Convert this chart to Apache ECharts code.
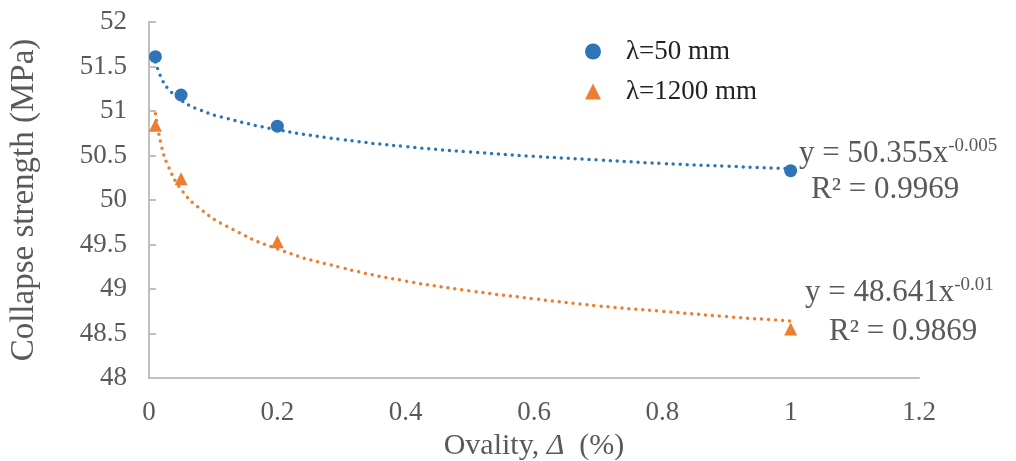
<!DOCTYPE html>
<html lang="en">
<head>
    <meta charset="UTF-8">
    <title>Collapse strength vs ovality</title>
    <script src="https://cdn.jsdelivr.net/npm/echarts@6/dist/echarts.min.js"></script>
    <style>
        html, body { margin: 0; padding: 0; background: #fff; }
        #chart { width: 1016px; height: 461px; }
    </style>
</head>
<body>
    <div id="chart"></div>
    <script>
        // measured points
        var ovality = [0.01, 0.05, 0.2, 1];
        var lambda50 = [51.61, 51.18, 50.83, 50.33];
        var lambda1200 = [50.84, 50.24, 49.53, 48.55];

        // trendline points
        var trendX = [0.01, 0.02, 0.03, 0.05, 0.08, 0.12, 0.2, 0.3, 0.4, 0.5, 0.6, 0.7, 0.8, 0.9, 1];
        var trend50 = [51.55, 51.36, 51.25, 51.12, 51.01, 50.92, 50.79, 50.68, 50.6, 50.54, 50.49, 50.45, 50.41, 50.38, 50.35];
        var trend1200 = [50.97, 50.59, 50.38, 50.12, 49.9, 49.71, 49.45, 49.24, 49.09, 48.98, 48.89, 48.81, 48.75, 48.69, 48.64];

        var xTicks = [0, 0.2, 0.4, 0.6, 0.8, 1, 1.2];

        var blue = '#2E75B6';
        var orange = '#ED7D31';
        var txt = '#595959';
        var serif = '"Liberation Serif", "DejaVu Serif", serif';

        function pairs(xs, ys) {
            var out = [];
            for (var i = 0; i < xs.length; i++) out.push([xs[i], ys[i]]);
            return out;
        }

        var chart = echarts.init(document.getElementById('chart'));
        var option = {
            animation: false,
            textStyle: { fontFamily: serif },
            grid: { left: 149, right: 97, top: 22, bottom: 83, outerBoundsMode: 'none', containLabel: false },
            legend: {
                orient: 'vertical',
                left: 580,
                top: 33,
                itemGap: 13,
                itemWidth: 16,
                itemHeight: 16,
                data: [
                    { name: 'λ=50 mm', icon: 'circle', itemStyle: { color: blue } },
                    { name: 'λ=1200 mm', icon: 'triangle', itemStyle: { color: orange } }
                ],
                textStyle: { fontFamily: serif, fontSize: 27, color: '#222', padding: [0, 0, 0, 20] }
            },
            xAxis: {
                type: 'value',
                min: 0,
                max: 1.2,
                interval: 0.2,
                name: '{a|Ovality, }{b|Δ}{a|  (%)}',
                nameLocation: 'middle',
                nameGap: 49,
                nameTextStyle: {
                    rich: {
                        a: { fontFamily: serif, fontSize: 30, color: txt },
                        b: { fontFamily: serif, fontSize: 30, color: txt, fontStyle: 'italic' }
                    }
                },
                axisLine: { show: true, lineStyle: { color: '#bfbfbf', width: 2 } },
                axisTick: { show: false },
                splitLine: { show: false },
                axisLabel: {
                    margin: 21,
                    fontFamily: serif,
                    fontSize: 27,
                    color: txt,
                    formatter: function (v) {
                        for (var i = 0; i < xTicks.length; i++) {
                            if (Math.abs(xTicks[i] - v) < 1e-9) return String(xTicks[i]);
                        }
                        return '';
                    }
                }
            },
            yAxis: {
                type: 'value',
                min: 48,
                max: 52,
                interval: 0.5,
                name: 'Collapse strength (MPa)',
                nameLocation: 'middle',
                nameGap: 108,
                nameTextStyle: { fontFamily: serif, fontSize: 33, color: txt },
                axisLine: { show: true, lineStyle: { color: '#bfbfbf', width: 2 } },
                axisTick: { show: true, inside: true, length: 7, lineStyle: { color: '#bfbfbf', width: 2 } },
                splitLine: { show: false },
                axisLabel: { margin: 22, fontFamily: serif, fontSize: 27, color: txt }
            },
            series: [
                {
                    name: 'trend50',
                    type: 'line',
                    data: pairs(trendX, trend50),
                    smooth: true,
                    showSymbol: false,
                    silent: true,
                    lineStyle: { color: blue, width: 3.5, type: [0, 7], cap: 'round' },
                    z: 1
                },
                {
                    name: 'trend1200',
                    type: 'line',
                    data: pairs(trendX, trend1200),
                    smooth: true,
                    showSymbol: false,
                    silent: true,
                    lineStyle: { color: orange, width: 3.5, type: [0, 7], cap: 'round' },
                    z: 1
                },
                {
                    name: 'λ=50 mm',
                    type: 'scatter',
                    symbol: 'circle',
                    symbolSize: 13,
                    itemStyle: { color: blue, opacity: 1 },
                    data: pairs(ovality, lambda50),
                    z: 3
                },
                {
                    name: 'λ=1200 mm',
                    type: 'scatter',
                    symbol: 'triangle',
                    symbolSize: 13,
                    itemStyle: { color: orange, opacity: 1 },
                    data: pairs(ovality, lambda1200),
                    z: 3
                }
            ],
            graphic: [
                {
                    type: 'text', left: 799, top: 137,
                    style: {
                        text: '{m|y = 50.355x}{s|-0.005}',
                        rich: {
                            m: { fontFamily: serif, fontSize: 31, fill: txt },
                            s: { fontFamily: serif, fontSize: 19, fill: txt, verticalAlign: 'top', padding: [0, 0, 14, 0] }
                        }
                    }
                },
                {
                    type: 'text', left: 811, top: 174,
                    style: { text: 'R² = 0.9969', fontFamily: serif, fontSize: 31, fill: txt }
                },
                {
                    type: 'text', left: 805, top: 276,
                    style: {
                        text: '{m|y = 48.641x}{s|-0.01}',
                        rich: {
                            m: { fontFamily: serif, fontSize: 31, fill: txt },
                            s: { fontFamily: serif, fontSize: 19, fill: txt, verticalAlign: 'top', padding: [0, 0, 14, 0] }
                        }
                    }
                },
                {
                    type: 'text', left: 829, top: 316,
                    style: { text: 'R² = 0.9869', fontFamily: serif, fontSize: 31, fill: txt }
                }
            ]
        };
        chart.setOption(option);
    </script>
</body>
</html>
